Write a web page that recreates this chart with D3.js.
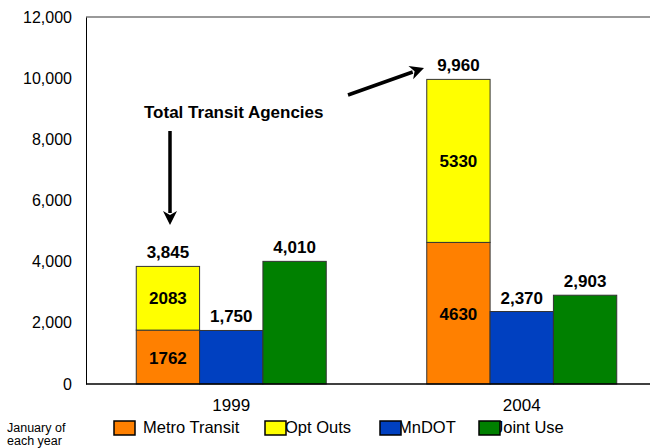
<!DOCTYPE html>
<html>
<head>
<meta charset="utf-8">
<script src="https://cdn.jsdelivr.net/npm/d3@7"></script>
<style>
html,body{margin:0;padding:0;background:#fff;}
svg{display:block;font-family:"Liberation Sans",Arial,sans-serif;}
</style>
</head>
<body>
<svg id="chart" width="650" height="448"></svg>
<script>
// ---- data ----
const years = ["1999", "2004"];
const metroTransit = [1762, 4630];
const optOuts = [2083, 5330];
const mnDOT = [1750, 2370];
const jointUse = [4010, 2903];
const yTicks = [0, 2000, 4000, 6000, 8000, 10000, 12000];
const seriesNames = ["Metro Transit", "Opt Outs", "MnDOT", "Joint Use"];
const seriesColors = ["#FF8000", "#FFFF00", "#0040C0", "#008000"];
const annotationText = "Total Transit Agencies";
const axisNote = ["January of", "each year"];

const svg = d3.select("#chart");
const mLeft = 86, mRight = 667, mTop = 17, mBottom = 384;

const y = d3.scaleLinear().domain([0, 12000]).range([mBottom, mTop]);
const x0 = d3.scaleBand().domain(years).range([mLeft, mRight]).paddingInner(0.346).paddingOuter(0.173);
const groups = ["stack", "mndot", "joint"];
const x1 = d3.scaleBand().domain(groups).range([0, x0.bandwidth()]).padding(0);

const fmt = d3.format(",");

// frame
svg.append("line").attr("x1", mLeft).attr("x2", mRight).attr("y1", mTop).attr("y2", mTop)
  .attr("stroke", "#777").attr("stroke-width", 1.5);

// y axis labels
const yAxis = d3.axisLeft(y).tickValues(yTicks).tickFormat(fmt).tickSize(0).tickPadding(14);
const ya = svg.append("g").attr("transform", `translate(${mLeft},0)`).call(yAxis);
ya.select(".domain").attr("stroke", "#000").attr("stroke-width", 1);
ya.selectAll("text").attr("font-size", "16px").attr("fill", "#000")
  .attr("font-family", '"Liberation Sans",Arial,sans-serif');

// bars
const barStroke = "#333";
years.forEach((yr, i) => {
  const gx = x0(yr);
  const bw = x1.bandwidth();
  const sx = gx + x1("stack");
  svg.append("rect").attr("x", sx).attr("width", bw)
    .attr("y", y(metroTransit[i])).attr("height", y(0) - y(metroTransit[i]))
    .attr("fill", seriesColors[0]).attr("stroke", barStroke).attr("stroke-width", 1);
  svg.append("rect").attr("x", sx).attr("width", bw)
    .attr("y", y(metroTransit[i] + optOuts[i])).attr("height", y(metroTransit[i]) - y(metroTransit[i] + optOuts[i]))
    .attr("fill", seriesColors[1]).attr("stroke", barStroke).attr("stroke-width", 1);
  const mx = gx + x1("mndot");
  svg.append("rect").attr("x", mx).attr("width", bw)
    .attr("y", y(mnDOT[i])).attr("height", y(0) - y(mnDOT[i]))
    .attr("fill", seriesColors[2]).attr("stroke", barStroke).attr("stroke-width", 1);
  const jx = gx + x1("joint");
  svg.append("rect").attr("x", jx).attr("width", bw)
    .attr("y", y(jointUse[i])).attr("height", y(0) - y(jointUse[i]))
    .attr("fill", seriesColors[3]).attr("stroke", barStroke).attr("stroke-width", 1);

  const lbl = (xx, yy, t) => svg.append("text").attr("x", xx).attr("y", yy)
    .attr("text-anchor", "middle").attr("font-size", "17px").attr("font-weight", "bold").attr("fill", "#000").text(t);
  const total = metroTransit[i] + optOuts[i];
  lbl(sx + bw / 2, y(total) - 8, fmt(total));
  lbl(sx + bw / 2, (y(metroTransit[i]) + y(total)) / 2 + 6, String(optOuts[i]));
  lbl(sx + bw / 2, (y(0) + y(metroTransit[i])) / 2 + 7, String(metroTransit[i]));
  lbl(mx + bw / 2, y(mnDOT[i]) - 8, fmt(mnDOT[i]));
  lbl(jx + bw / 2, y(jointUse[i]) - 8, fmt(jointUse[i]));
});

// x axis
svg.append("line").attr("x1", mLeft).attr("x2", mRight).attr("y1", mBottom).attr("y2", mBottom)
  .attr("stroke", "#000").attr("stroke-width", 1.5);
years.forEach(yr => {
  svg.append("text").attr("x", x0(yr) + x0.bandwidth() / 2).attr("y", 411)
    .attr("text-anchor", "middle").attr("font-size", "17px").attr("fill", "#000").text(yr);
});

// annotation
svg.append("text").attr("x", 144).attr("y", 118).attr("font-size", "17px")
  .attr("font-weight", "bold").attr("fill", "#000").text(annotationText);

function arrow(xa, ya_, xb, yb) {
  const ang = Math.atan2(yb - ya_, xb - xa);
  const L = 14, W = 7;
  const bx = xb - L * Math.cos(ang), by = yb - L * Math.sin(ang);
  svg.append("line").attr("x1", xa).attr("y1", ya_).attr("x2", bx + 2 * Math.cos(ang)).attr("y2", by + 2 * Math.sin(ang))
    .attr("stroke", "#000").attr("stroke-width", 3.5);
  const px = -Math.sin(ang) * W, py = Math.cos(ang) * W;
  svg.append("path").attr("d", `M${xb},${yb}L${bx + px},${by + py}L${bx + 4 * Math.cos(ang)},${by + 4 * Math.sin(ang)}L${bx - px},${by - py}Z`)
    .attr("fill", "#000");
}
arrow(170, 131, 170, 225);
arrow(348, 95, 424, 68);

// legend: text first, then squares (squares overlap first letters as in original)
const legendItems = [
  {sq: 114, tx: 143},
  {sq: 265, tx: 285},
  {sq: 380, tx: 398},
  {sq: 479, tx: 495}
];
legendItems.forEach((it, k) => {
  svg.append("text").attr("x", it.tx).attr("y", 433).attr("font-size", "16.5px").attr("fill", "#000").text(seriesNames[k]);
});
legendItems.forEach((it, k) => {
  svg.append("rect").attr("x", it.sq).attr("y", 421).attr("width", 21).attr("height", 14)
    .attr("fill", seriesColors[k]).attr("stroke", "#000").attr("stroke-width", 1.5);
});

svg.append("text").attr("x", 7).attr("y", 431.5).attr("font-size", "12.5px").attr("fill", "#000").text(axisNote[0]);
svg.append("text").attr("x", 7).attr("y", 445).attr("font-size", "12.5px").attr("fill", "#000").text(axisNote[1]);
</script>
</body>
</html>
